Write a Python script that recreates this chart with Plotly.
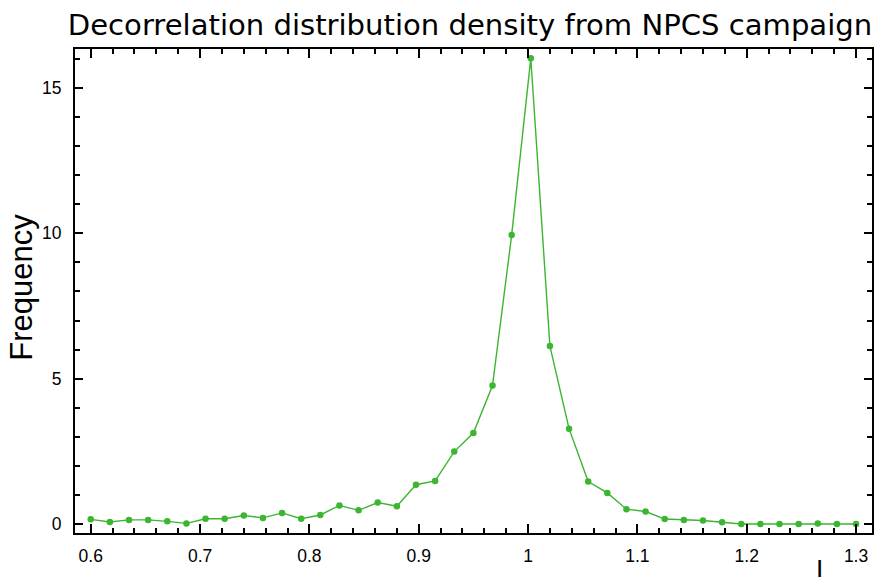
import plotly.graph_objects as go

# Decorrelation bin centres
decorrelation = [0.6, 0.6175, 0.635, 0.6525, 0.67, 0.6875, 0.705, 0.7225, 0.74, 0.7575,
                 0.775, 0.7925, 0.81, 0.8275, 0.845, 0.8625, 0.88, 0.8975, 0.915, 0.9325,
                 0.95, 0.9675, 0.985, 1.0025, 1.02, 1.0375, 1.055, 1.0725, 1.09, 1.1075,
                 1.125, 1.1425, 1.16, 1.1775, 1.195, 1.2125, 1.23, 1.2475, 1.265, 1.2825, 1.3]
# Frequency (density) values
frequency = [0.16, 0.07, 0.14, 0.14, 0.09, 0.02, 0.18, 0.18, 0.29, 0.21,
             0.38, 0.18, 0.31, 0.64, 0.47, 0.74, 0.61, 1.35, 1.48, 2.49,
             3.13, 4.76, 9.94, 16.02, 6.12, 3.28, 1.46, 1.07, 0.51, 0.43,
             0.17, 0.14, 0.12, 0.06, 0.0, 0.0, 0.0, 0.0, 0.02, 0.0, 0.0]

title_text = "Decorrelation distribution density from NPCS campaign"
y_title = "Frequency"
x_title = "I"
x_ticks = [0.6, 0.7, 0.8, 0.9, 1.0, 1.1, 1.2, 1.3]
x_ticklabels = ["0.6", "0.7", "0.8", "0.9", "1", "1.1", "1.2", "1.3"]
y_ticks = [0, 5, 10, 15]
y_ticklabels = ["0", "5", "10", "15"]

green = "#3cb531"

fig = go.Figure()
fig.add_trace(go.Scatter(
    x=decorrelation, y=frequency, mode="lines+markers",
    line=dict(color=green, width=1.4),
    marker=dict(color=green, size=6.5),
    showlegend=False,
))

axis_common = dict(
    showline=True, linecolor="black", linewidth=2, mirror="ticks",
    ticks="inside", tickcolor="black", tickwidth=2,
    showgrid=False, zeroline=False, automargin=False,
    tickfont=dict(family="Liberation Sans, Arial, sans-serif", size=17.5, color="black"),
)

fig.update_xaxes(
    range=[0.5856, 1.3146],
    tickvals=x_ticks, ticktext=x_ticklabels, ticklen=9,
    minor=dict(dtick=0.02, tick0=0.6, ticks="inside", ticklen=5, tickwidth=2, tickcolor="black"),
    ticklabelstandoff=6,
    **axis_common,
)
fig.update_yaxes(
    range=[-0.31, 16.34],
    tickvals=y_ticks, ticktext=y_ticklabels, ticklen=8,
    minor=dict(dtick=1, tick0=0, ticks="inside", ticklen=5, tickwidth=2, tickcolor="black"),
    ticklabelstandoff=8,
    **axis_common,
)

fig.update_layout(
    width=875, height=577,
    margin=dict(l=75, r=3, t=49, b=44),
    paper_bgcolor="white", plot_bgcolor="white",
    title=dict(text=title_text, x=0.4956, xref="paper", xanchor="center",
               y=1 - 25 / 577, yref="container", yanchor="middle",
               font=dict(family="DejaVu Sans, sans-serif", size=29.1, color="black")),
    annotations=[
        dict(text=y_title, xref="paper", yref="paper", x=-0.067, y=0.508,
             xanchor="center", yanchor="middle", textangle=-90, showarrow=False,
             font=dict(family="Liberation Sans, Arial, sans-serif", size=31, color="black")),
        dict(text=x_title, xref="paper", yref="paper", x=0.934, y=-0.04,
             xanchor="center", yanchor="top", showarrow=False,
             font=dict(family="Liberation Sans, Arial, sans-serif", size=26, color="black")),
    ],
)

fig.write_html("out.html", config={"displayModeBar": False},
               post_script="document.body.style.margin='0';document.body.style.overflow='hidden';")
